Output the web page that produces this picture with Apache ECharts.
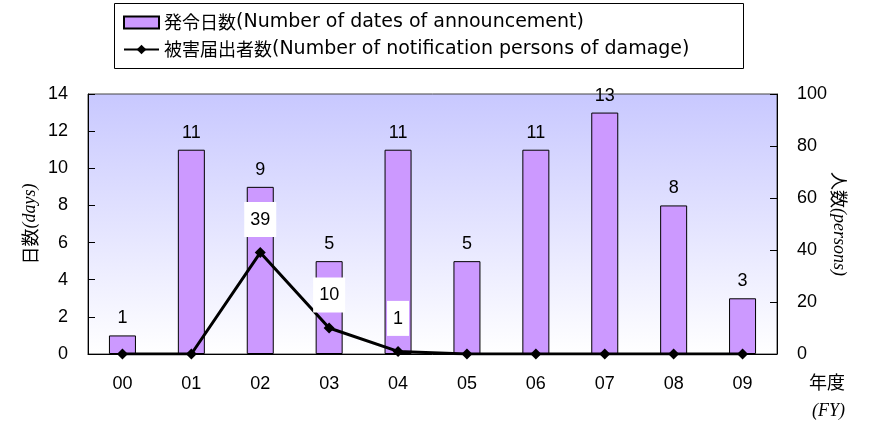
<!DOCTYPE html>
<html><head><meta charset="utf-8">
<script src="https://cdn.jsdelivr.net/npm/echarts@6/dist/echarts.min.js"></script>
<style>html,body{margin:0;padding:0;background:#fff}#c{width:869px;height:432px}</style>
</head><body><div id="c"></div>
<script>
var years = ['00','01','02','03','04','05','06','07','08','09'];
var announceDays = [1,11,9,5,11,5,11,13,8,3];
var damagePersons = [0,0,39,10,1,0,0,0,0,0];
var leftTicks = {min:0, max:14, interval:2};
var rightTicks = {min:0, max:100, interval:20};
var barName = '発令日数(Number of dates of announcement)';
var lineName = '被害届出者数(Number of notification persons of damage)';

var FONT = "'Liberation Sans','Noto Sans CJK JP',sans-serif";
var chart = echarts.init(document.getElementById('c'));
var richName = {a:{fontSize:18,fontFamily:"'Noto Sans CJK JP'",color:'#000'},b:{fontSize:18,fontStyle:'italic',fontFamily:"'Liberation Serif',serif",color:'#000'}};
chart.setOption({
  animation:false,
  textStyle:{fontFamily:FONT},
  graphic:[
    {type:'rect', shape:{x:114.5,y:3.5,width:629,height:65}, style:{fill:'#fff',stroke:'#000',lineWidth:1}, z:-1},
    {type:'text', left:809, top:373, style:{text:'年度', font:"18px 'Noto Sans CJK JP'", fill:'#000'}},
    {type:'text', left:812, top:402, style:{text:'(FY)', font:"italic 18px 'Liberation Serif',serif", fill:'#000'}}
  ],
  legend:{
    orient:'vertical', left:118, top:8, itemGap:8, itemWidth:35, itemHeight:12,
    formatter:function(n){var i=n.indexOf('(');return '{c|'+n.slice(0,i)+'}{e|'+n.slice(i)+'}';},
    textStyle:{color:'#000', rich:{c:{fontSize:18,fontFamily:"'Noto Sans CJK JP'",color:'#000'},e:{fontSize:19,fontFamily:"'DejaVu Sans'",color:'#000'}}},
    data:[{name:barName, icon:'rect'}, {name:lineName}]
  },
  grid:{left:88,right:92,top:94,bottom:78,show:true,borderColor:'#444',borderWidth:1,
    backgroundColor:{type:'linear',x:0,y:0,x2:0,y2:1,colorStops:[{offset:0,color:'#c8c8ff'},{offset:1,color:'#ffffff'}]}},
  xAxis:{type:'category', data:years,
    axisLine:{lineStyle:{color:'#000'}},
    axisTick:{inside:true, length:6, lineStyle:{color:'#444'}},
    axisLabel:{fontSize:18, color:'#000', margin:21}},
  yAxis:[
    {type:'value', min:leftTicks.min, max:leftTicks.max, interval:leftTicks.interval,
     name:'{a|日数}{b|(days)}', nameLocation:'middle', nameRotate:90, nameGap:49, nameMoveOverlap:false,
     nameTextStyle:{rich:richName},
     axisLine:{show:true,lineStyle:{color:'#000'}}, axisTick:{show:true,inside:true,length:7,lineStyle:{color:'#000'}},
     splitLine:{show:false}, axisLabel:{fontSize:18,color:'#000',margin:20}},
    {type:'value', min:rightTicks.min, max:rightTicks.max, interval:rightTicks.interval, position:'right',
     name:'{a|人数}{b|(persons)}', nameLocation:'middle', nameRotate:-90, nameGap:53, nameMoveOverlap:false,
     nameTextStyle:{rich:richName},
     axisLine:{show:true,lineStyle:{color:'#000'}}, axisTick:{show:true,inside:true,length:7,lineStyle:{color:'#000'}},
     splitLine:{show:false}, axisLabel:{fontSize:18,color:'#000',margin:20}}
  ],
  series:[
    {name:barName, type:'bar', yAxisIndex:0, barWidth:27, data:announceDays,
     itemStyle:{color:'#cc99ff', borderColor:'#000', borderWidth:1},
     label:{show:true, position:'top', distance:8, fontSize:18, color:'#000'}},
    {name:lineName, type:'line', yAxisIndex:1,
     data:damagePersons.map(function(v){return {value:v, label:{show:v>0}};}),
     symbol:'diamond', symbolSize:11, lineStyle:{color:'#000',width:3}, itemStyle:{color:'#000'},
     label:{position:'top', distance:10, fontSize:18, color:'#000', backgroundColor:'#fff', padding:[9,6,8,6]}}
  ]
});
</script></body></html>
